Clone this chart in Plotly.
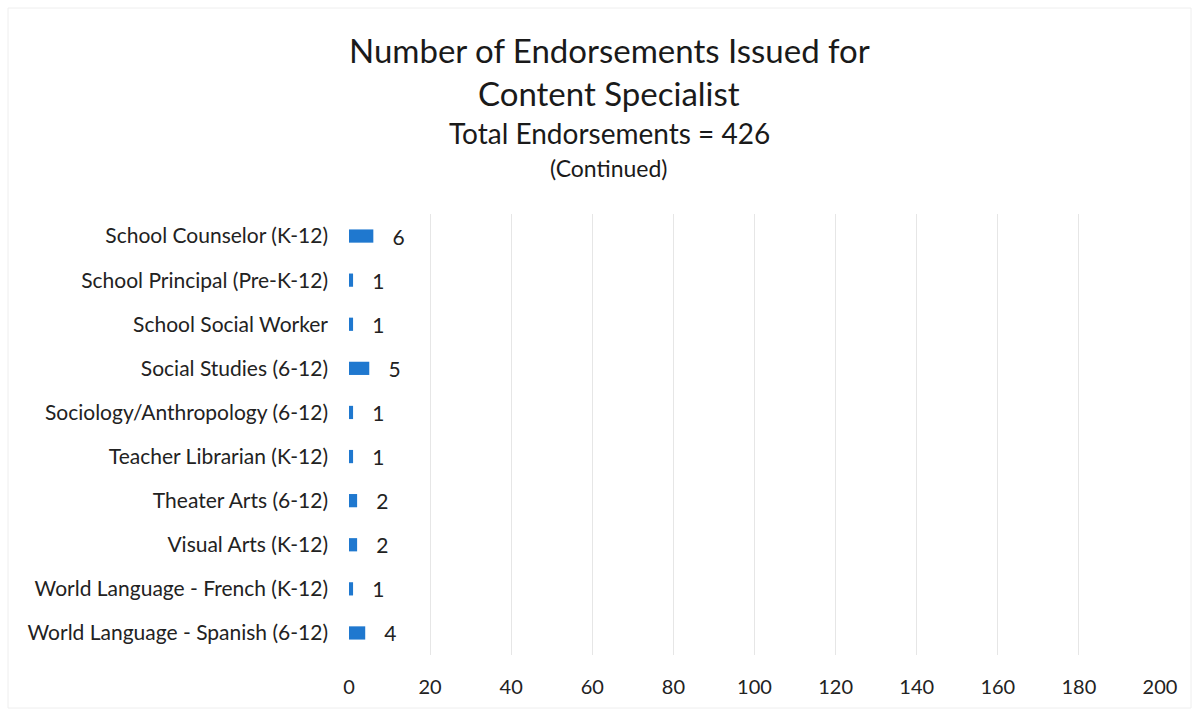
import plotly.graph_objects as go

categories = [
    "School Counselor (K-12)",
    "School Principal (Pre-K-12)",
    "School Social Worker",
    "Social Studies (6-12)",
    "Sociology/Anthropology (6-12)",
    "Teacher Librarian (K-12)",
    "Theater Arts (6-12)",
    "Visual Arts (K-12)",
    "World Language - French (K-12)",
    "World Language - Spanish (6-12)",
]
values = [6, 1, 1, 5, 1, 1, 2, 2, 1, 4]
x_ticks = [0, 20, 40, 60, 80, 100, 120, 140, 160, 180, 200]

FONT = "Lato, 'Open Sans', sans-serif"

fig = go.Figure(
    go.Bar(
        x=values,
        y=categories,
        orientation="h",
        width=0.3,
        marker=dict(color="#1f78cf", line=dict(width=0)),
        text=["   " + str(v) for v in values],
        textposition="outside",
        constraintext="none",
        textfont=dict(family=FONT, size=21, color="#222222"),
        cliponaxis=False,
    )
)

titles = [
    ("Number of Endorsements Issued for", 50, 33),
    ("Content Specialist", 93, 33),
    ("Total Endorsements = 426", 133, 28),
    ("(Continued)", 168, 23),
]
H = 714
T, B = 214, 59
L, R = 349, 39
W = 1199
for txt, y, sz in titles:
    fig.add_annotation(
        text=txt, x=(609 - L) / (W - L - R), y=1 - (y - T) / (H - T - B),
        xref="paper", yref="paper",
        showarrow=False, font=dict(family=FONT, size=sz, color="#1a1a1a"),
        xanchor="center", yanchor="middle",
    )

fig.update_layout(
    width=W,
    height=H,
    margin=dict(l=L, r=R, t=T, b=B),
    paper_bgcolor="white",
    plot_bgcolor="white",
    showlegend=False,
    font=dict(family=FONT, size=20, color="#222222"),
    xaxis=dict(
        range=[0, 200],
        tickvals=x_ticks,
        ticktext=[str(t) for t in x_ticks],
        showgrid=True,
        gridcolor="#e6e6e6",
        gridwidth=1,
        zeroline=False,
        showline=False,
        tickfont=dict(family=FONT, size=20, color="#222222"),
        ticklabelstandoff=18,
    ),
    yaxis=dict(
        categoryorder="array",
        categoryarray=categories[::-1],
        autorange=True,
        showgrid=False,
        zeroline=False,
        showline=False,
        tickfont=dict(family=FONT, size=21, color="#222222"),
        ticklabelstandoff=20,
    ),
    shapes=[
        dict(type="rect", xref="paper", yref="paper",
             x0=(8 - L) / (W - L - R), x1=(1191 - L) / (W - L - R),
             y0=1 - (708 - T) / (H - T - B), y1=1 - (8 - T) / (H - T - B),
             line=dict(color="#eeeeee", width=1), layer="below"),
    ],
)

fig.write_html("out.html")
